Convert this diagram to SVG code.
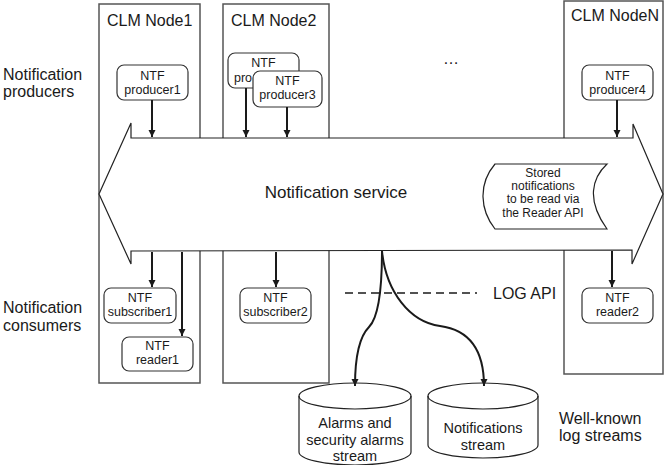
<svg xmlns="http://www.w3.org/2000/svg" width="665" height="465" viewBox="0 0 665 465">
<defs>
<marker id="ah" viewBox="0 0 10 10" refX="10" refY="5" markerWidth="7" markerHeight="9" markerUnits="userSpaceOnUse" orient="auto">
<path d="M0,0 L10,5 L0,10 z" fill="#1a1a1a"/>
</marker>
<style>
text{font-family:"Liberation Sans",Arial,sans-serif;fill:#1a1a1a}
.lbl{font-size:16px}
.sm{font-size:12.5px;text-anchor:middle}
.st{font-size:12px;text-anchor:middle}
.cy{font-size:14.5px;text-anchor:middle}
.node{fill:none;stroke:#555;stroke-width:1.5}
.box{fill:#fff;stroke:#333;stroke-width:1.2}
.conn{fill:none;stroke:#1a1a1a;stroke-width:2;marker-end:url(#ah)}
.shape{fill:#fff;stroke:#222;stroke-width:1.2}
</style>
</defs>

<g id="side-labels">
<text class="lbl" x="3" y="80">Notification</text>
<text class="lbl" x="3" y="97">producers</text>
<text class="lbl" x="3" y="313">Notification</text>
<text class="lbl" x="3" y="331">consumers</text>
<text class="lbl" x="559" y="424">Well-known</text>
<text class="lbl" x="559" y="441">log streams</text>
<text class="lbl" x="443" y="64">…</text>
</g>

<g id="clm-node1">
<rect class="node" x="99" y="4" width="101" height="379"/>
<text class="lbl" x="107" y="26">CLM Node1</text>
</g>
<g id="clm-node2">
<rect class="node" x="223" y="4" width="106" height="379"/>
<text class="lbl" x="231" y="26">CLM Node2</text>
</g>
<g id="clm-nodeN">
<rect class="node" x="564" y="1" width="99" height="373"/>
<text class="lbl" x="571" y="21">CLM NodeN</text>
</g>

<g id="notification-service">
<path class="shape" d="M99,194 L131,123 L131,138 L633,138 L633,124 L663,194 L632,264 L632,250 L131,251 L131,264 Z"/>
<text x="336" y="198" style="font-size:17px;text-anchor:middle">Notification service</text>
</g>

<g id="stored-notifications">
<path class="shape" d="M495,164 L607,164 C592,178 586,200 607,229 L495,229 C480,210 478,184 495,164 Z"/>
<text class="st" x="543" y="177">Stored</text>
<text class="st" x="543" y="190">notifications</text>
<text class="st" x="543" y="203">to be read via</text>
<text class="st" x="543" y="217">the Reader API</text>
</g>

<g id="ntf-producer1">
<rect class="box" x="117" y="65" width="71" height="35" rx="7"/>
<text class="sm" x="152.5" y="80">NTF</text>
<text class="sm" x="152.5" y="94">producer1</text>
</g>
<g id="ntf-producer2">
<rect class="box" x="228" y="53" width="71" height="35" rx="7"/>
<text class="sm" x="263.5" y="67">NTF</text>
<text x="234" y="82" style="font-size:12.5px">pro</text>
</g>
<g id="ntf-producer3">
<rect class="box" x="253" y="71" width="69" height="36" rx="7"/>
<text class="sm" x="287.5" y="85">NTF</text>
<text class="sm" x="287.5" y="99">producer3</text>
</g>
<g id="ntf-producer4">
<rect class="box" x="582" y="65" width="71" height="35" rx="7"/>
<text class="sm" x="617.5" y="80">NTF</text>
<text class="sm" x="617.5" y="94">producer4</text>
</g>
<g id="ntf-subscriber1">
<rect class="box" x="104" y="288" width="72" height="35" rx="7"/>
<text class="sm" x="140" y="302">NTF</text>
<text class="sm" x="140" y="316">subscriber1</text>
</g>
<g id="ntf-reader1">
<rect class="box" x="122" y="337" width="71" height="34" rx="7"/>
<text class="sm" x="157.5" y="350">NTF</text>
<text class="sm" x="157.5" y="364">reader1</text>
</g>
<g id="ntf-subscriber2">
<rect class="box" x="240" y="288" width="71" height="35" rx="7"/>
<text class="sm" x="275.5" y="302">NTF</text>
<text class="sm" x="275.5" y="316">subscriber2</text>
</g>
<g id="ntf-reader2">
<rect class="box" x="582" y="288" width="71" height="35" rx="7"/>
<text class="sm" x="617.5" y="302">NTF</text>
<text class="sm" x="617.5" y="316">reader2</text>
</g>

<g id="alarms-stream">
<path class="shape" d="M299,396 A56,13 0 0 1 411,396 L411,452 A56,13 0 0 1 299,452 Z"/>
<path fill="none" stroke="#222" stroke-width="1.2" d="M299,396 A56,13 0 0 0 411,396"/>
<text class="cy" x="355" y="428">Alarms and</text>
<text class="cy" x="355" y="445">security alarms</text>
<text class="cy" x="355" y="461">stream</text>
</g>
<g id="notifications-stream">
<path class="shape" d="M428,396 A55,13 0 0 1 538,396 L538,445 A55,13 0 0 1 428,445 Z"/>
<path fill="none" stroke="#222" stroke-width="1.2" d="M428,396 A55,13 0 0 0 538,396"/>
<text class="cy" x="483" y="433">Notifications</text>
<text class="cy" x="483" y="450">stream</text>
</g>

<g id="log-api">
<line x1="345" y1="293" x2="477" y2="293" stroke="#1a1a1a" stroke-width="1.5" stroke-dasharray="8,5"/>
<text class="lbl" x="493" y="299">LOG API</text>
</g>

<g id="connectors">
<line class="conn" x1="152" y1="100" x2="152" y2="137"/>
<line class="conn" x1="246" y1="88" x2="246" y2="137"/>
<line class="conn" x1="287" y1="107" x2="287" y2="137"/>
<line class="conn" x1="617" y1="100" x2="617" y2="137"/>
<line class="conn" x1="152" y1="252" x2="152" y2="287"/>
<line class="conn" x1="182" y1="252" x2="182" y2="336"/>
<line class="conn" x1="276" y1="252" x2="276" y2="287"/>
<line class="conn" x1="612" y1="251" x2="612" y2="287"/>
<path class="conn" d="M382,251 C382,290 378,318 369,327 C359,337 355,360 355,386"/>
<path class="conn" d="M382,251 C386,292 410,322 440,326 C470,330 484,350 484,386"/>
</g>
</svg>
